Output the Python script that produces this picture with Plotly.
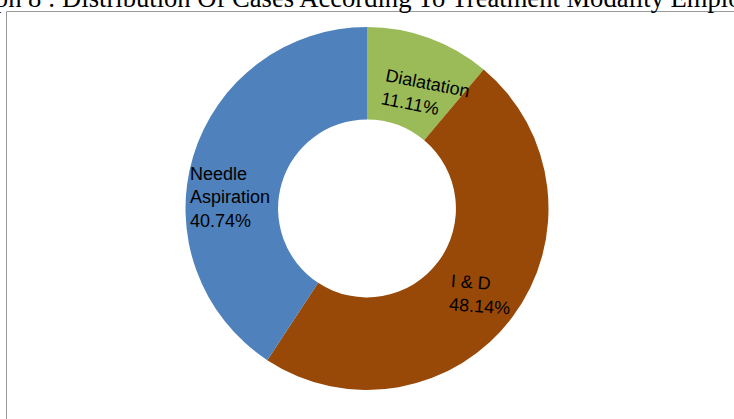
import math
import plotly.graph_objects as go

categories = ["Dialatation", "I & D", "Needle Aspiration"]
label_lines = ["Dialatation", "I & D", "Needle<br>Aspiration"]
percentages = [11.11, 48.14, 40.74]
colors = ["#9BBB59", "#984807", "#4F81BD"]
title_text = "Graph 8 : Distribution Of Cases According To Treatment Modality Employed"

# label layout (style): angular nudge from slice mid-angle (deg), radius (px), text tilt (deg)
label_nudge = [7.0, 0.4, -12.0]
label_radius = [128, 142, 137]
label_tilt = [11, 4, 0]

W, H = 734, 419
mt, mb = 27, 29
ph = H - mt - mb
pw = W
cx, cy = pw / 2, ph / 2  # pie centre in paper pixels (from bottom-left)

fig = go.Figure(
    go.Pie(
        labels=categories,
        values=percentages,
        textinfo="none",
        hole=0.49,
        sort=False,
        direction="clockwise",
        rotation=0,
        marker=dict(colors=colors, line=dict(width=0)),
        showlegend=False,
        hoverinfo="label+percent",
    )
)

total = sum(percentages)
cum = 0.0
for i, (lab, p) in enumerate(zip(label_lines, percentages)):
    mid = (cum + p / 2) / total * 360.0
    cum += p
    ang = math.radians(mid + label_nudge[i])
    px_ = cx + label_radius[i] * math.sin(ang)
    py_ = cy + label_radius[i] * math.cos(ang)
    fig.add_annotation(
        text=f"{lab}<br>{p:.2f}%",
        xref="paper", yref="paper", x=px_ / pw, y=py_ / ph,
        xanchor="center", yanchor="middle", align="left",
        textangle=label_tilt[i], showarrow=False,
        font=dict(family="Liberation Sans, Arial, sans-serif", size=18, color="#000000"),
    )

fig.add_shape(
    type="rect", xref="paper", yref="paper",
    x0=6.5 / W, x1=1.05, y0=-0.2, y1=(H - mb - 11.5) / ph,
    line=dict(color="#999999", width=1), fillcolor="rgba(0,0,0,0)", layer="below",
)

fig.add_annotation(
    text=title_text, xref="paper", yref="paper", x=0.5, y=(H - mb - 15) / ph,
    xanchor="center", yanchor="bottom", showarrow=False,
    font=dict(family="Liberation Serif, Times New Roman, serif", size=26.6, color="#000000"),
)

fig.update_layout(
    width=W, height=H,
    margin=dict(l=0, r=0, t=mt, b=mb),
    paper_bgcolor="white", plot_bgcolor="white",
)

fig.write_html(
    "out.html",
    config={"displayModeBar": False},
    post_script="document.body.style.margin='0px';",
)
